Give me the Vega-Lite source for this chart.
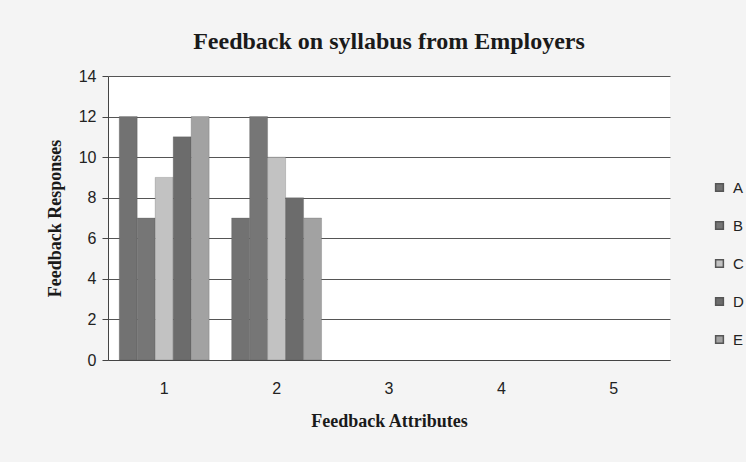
{
  "$schema": "https://vega.github.io/schema/vega-lite/v6.json",
  "width": 562,
  "height": 284,
  "autosize": "none",
  "padding": {"left": 108, "top": 76, "right": 76, "bottom": 102},
  "background": "#f4f4f4",
  "title": {
    "text": "Feedback on syllabus from Employers",
    "font": "Liberation Serif",
    "fontSize": 24,
    "fontWeight": "bold",
    "color": "#1a1a1a",
    "offset": 14,
    "anchor": "middle"
  },
  "data": {
    "values": [
      {"attr": 1, "series": "A", "value": 12},
      {"attr": 1, "series": "B", "value": 7},
      {"attr": 1, "series": "C", "value": 9},
      {"attr": 1, "series": "D", "value": 11},
      {"attr": 1, "series": "E", "value": 12},
      {"attr": 2, "series": "A", "value": 7},
      {"attr": 2, "series": "B", "value": 12},
      {"attr": 2, "series": "C", "value": 10},
      {"attr": 2, "series": "D", "value": 8},
      {"attr": 2, "series": "E", "value": 7}
    ]
  },
  "mark": {"type": "bar", "stroke": "#555", "strokeWidth": 0.5, "strokeOpacity": 0.5},
  "encoding": {
    "x": {
      "field": "attr",
      "type": "ordinal",
      "scale": {"domain": [1, 2, 3, 4, 5], "paddingInner": 0.2, "paddingOuter": 0.1},
      "axis": {
        "title": "Feedback Attributes",
        "titleFont": "Liberation Serif",
        "titleFontSize": 18,
        "titleFontWeight": "bold",
        "titleColor": "#1a1a1a",
        "titlePadding": 16,
        "labelFont": "Liberation Sans",
        "labelFontSize": 16,
        "labelColor": "#222",
        "labelAngle": 0,
        "labelPadding": 20,
        "ticks": false,
        "domainColor": "#444",
        "grid": false
      }
    },
    "xOffset": {"field": "series", "type": "nominal", "scale": {"paddingInner": 0}},
    "y": {
      "field": "value",
      "type": "quantitative",
      "scale": {"domain": [0, 14]},
      "axis": {
        "title": "Feedback Responses",
        "titleFont": "Liberation Serif",
        "titleFontSize": 18,
        "titleFontWeight": "bold",
        "titleColor": "#1a1a1a",
        "titlePadding": 14,
        "labelFont": "Liberation Sans",
        "labelFontSize": 16,
        "labelColor": "#222",
        "labelPadding": 6,
        "values": [0, 2, 4, 6, 8, 10, 12, 14],
        "tickSize": 6,
        "tickColor": "#444",
        "domainColor": "#444",
        "gridColor": "#555",
        "gridWidth": 1.2
      }
    },
    "color": {
      "field": "series",
      "type": "nominal",
      "scale": {"domain": ["A", "B", "C", "D", "E"], "range": ["#727272", "#767676", "#c2c2c2", "#6c6c6c", "#a2a2a2"]},
      "legend": {
        "title": null,
        "orient": "none",
        "legendX": 604,
        "legendY": 104,
        "symbolType": "square",
        "symbolSize": 60,
        "labelOffset": 6,
        "labelFont": "Liberation Sans",
        "labelFontSize": 15,
        "labelColor": "#222",
        "rowPadding": 22
      }
    }
  },
  "config": {
    "view": {"stroke": null, "fill": "#ffffff"}
  }
}
